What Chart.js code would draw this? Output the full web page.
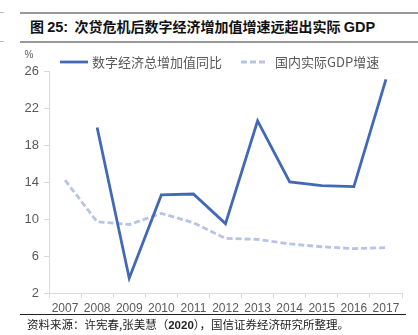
<!DOCTYPE html>
<html>
<head>
<meta charset="utf-8">
<script src="https://cdn.jsdelivr.net/npm/chart.js@4/dist/chart.umd.min.js"></script>
<style>
  html, body { margin: 0; padding: 0; background: #fff; }
  #wrap { position: relative; width: 418px; height: 335px; overflow: hidden; }
  #chart { position: absolute; left: 0; top: 0; }
  .rule { position: absolute; background: #999; }
  #title {
    position: absolute; left: 30px; top: 17px; white-space: nowrap;
    font: bold 14px "Noto Sans CJK SC", sans-serif; color: #111; line-height: 18px;
  }
  #title .latin { font-family: "Liberation Sans", Arial, sans-serif; font-size: 14.5px; }
  #source {
    position: absolute; left: 27px; top: 316px; white-space: nowrap;
    font: 11.5px "Noto Sans CJK SC", sans-serif; color: #222; line-height: 16px;
  }
  #source b { font-family: "Liberation Sans", Arial, sans-serif; }
</style>
</head>
<body>
<div id="wrap">
  <div class="rule" style="left:20px; top:12px; width:398px; height:2px;"></div>
  <div class="rule" style="left:0; top:12px; width:4px; height:1px; background:#bbb;"></div>
  <div id="title">图 <span class="latin">25:</span>&nbsp; 次贷危机后数字经济增加值增速远超出实际 <span class="latin">GDP</span></div>
  <div class="rule" style="left:20px; top:41px; width:398px; height:2px;"></div>
  <div class="rule" style="left:0; top:41px; width:4px; height:1px; background:#bbb;"></div>
  <canvas id="chart" width="418" height="335"></canvas>
  <div class="rule" style="left:20px; top:314px; width:386px; height:1px; background:#222;"></div>
  <div id="source">资料来源：许宪春,张美慧（<b>2020</b>），国信证券经济研究所整理。</div>
</div>
<script>
// Years on the category axis
const years = ['2007', '2008', '2009', '2010', '2011', '2012', '2013', '2014', '2015', '2016', '2017'];
// Digital economy value-added, year-on-year growth (%)
const digitalGrowth = [null, 19.9, 3.6, 12.6, 12.7, 9.5, 20.6, 14.0, 13.6, 13.5, 25.1];
// Real GDP growth (%)
const gdpGrowth = [14.2, 9.7, 9.4, 10.6, 9.6, 7.9, 7.8, 7.3, 7.0, 6.8, 6.9];
// Value axis ticks
const yMin = 2, yMax = 26, yStep = 4;

const seriesNames = ['数字经济总增加值同比', '国内实际GDP增速'];

const axisColor = '#d9d9d9';
const labelColor = '#595959';

// Legend row and the "%" unit label drawn above the plot
const legendAndUnit = {
  id: 'legendAndUnit',
  afterDraw(chart) {
    const ctx = chart.ctx;
    const y = 62;
    const items = [
      { x0: 60, x1: 88, tx: 92 },
      { x0: 241, x1: 268, tx: 275 }
    ];
    ctx.save();
    chart.data.datasets.forEach((ds, i) => {
      const it = items[i];
      ctx.beginPath();
      ctx.strokeStyle = ds.borderColor;
      ctx.lineWidth = ds.borderWidth;
      ctx.setLineDash(ds.borderDash || []);
      ctx.lineCap = 'butt';
      ctx.moveTo(it.x0, y);
      ctx.lineTo(it.x1, y);
      ctx.stroke();
      ctx.setLineDash([]);
      ctx.fillStyle = labelColor;
      ctx.font = '13px "Noto Sans CJK SC", sans-serif';
      ctx.textBaseline = 'middle';
      ctx.textAlign = 'left';
      ctx.fillText(ds.label, it.tx, y);
    });
    ctx.fillStyle = labelColor;
    ctx.font = '10px "Liberation Sans", Arial, sans-serif';
    ctx.textAlign = 'center';
    ctx.textBaseline = 'middle';
    ctx.fillText('%', 29, 55);
    ctx.restore();
  }
};

new Chart(document.getElementById('chart'), {
  type: 'line',
  data: {
    labels: years,
    datasets: [
      {
        label: seriesNames[0],
        data: digitalGrowth,
        borderColor: '#4169b8',
        borderWidth: 2.8,
        pointRadius: 0,
        tension: 0,
        spanGaps: false
      },
      {
        label: seriesNames[1],
        data: gdpGrowth,
        borderColor: '#b7c4e6',
        borderWidth: 2.8,
        borderDash: [6, 3],
        pointRadius: 0,
        tension: 0
      }
    ]
  },
  options: {
    responsive: false,
    animation: false,
    devicePixelRatio: 1,
    layout: { padding: { left: 0, right: 16, top: 71, bottom: 0 } },
    plugins: {
      legend: { display: false },
      tooltip: { enabled: false }
    },
    scales: {
      x: {
        type: 'category',
        offset: true,
        grid: {
          offset: true,
          drawOnChartArea: false,
          drawTicks: true,
          tickLength: 5,
          color: axisColor
        },
        border: { color: axisColor, width: 1 },
        ticks: {
          color: labelColor,
          font: { family: '"Liberation Sans", Arial, sans-serif', size: 12 },
          padding: 3,
          maxRotation: 0,
          autoSkip: false
        },
        afterFit(scale) { scale.height = 42; }
      },
      y: {
        min: yMin,
        max: yMax,
        grid: {
          drawOnChartArea: false,
          drawTicks: true,
          tickLength: 5,
          color: axisColor
        },
        border: { color: axisColor, width: 1 },
        ticks: {
          stepSize: yStep,
          color: labelColor,
          font: { family: '"Liberation Sans", Arial, sans-serif', size: 13 },
          padding: 5
        },
        afterFit(scale) { scale.width = 49; }
      }
    }
  },
  plugins: [legendAndUnit]
});
</script>
</body>
</html>
